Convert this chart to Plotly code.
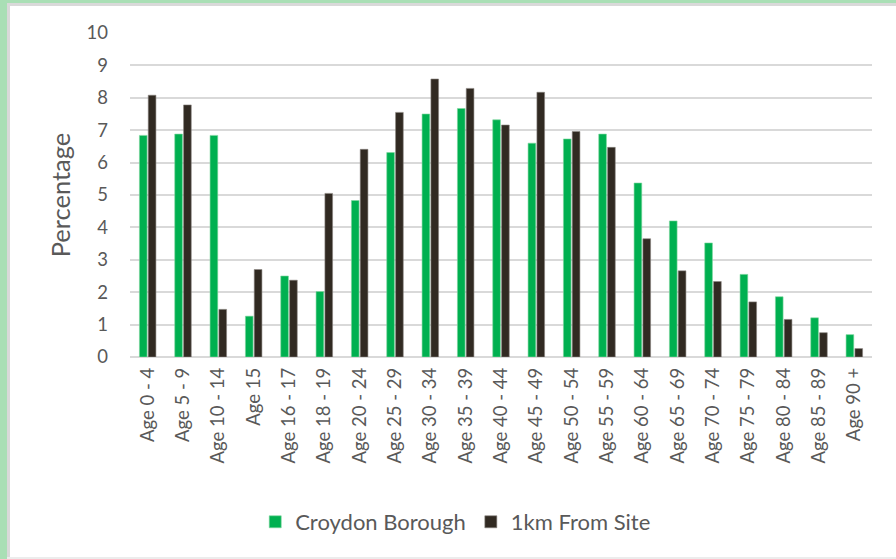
import plotly.graph_objects as go

categories = ["Age 0 - 4", "Age 5 - 9", "Age 10 - 14", "Age 15", "Age 16 - 17", "Age 18 - 19",
              "Age 20 - 24", "Age 25 - 29", "Age 30 - 34", "Age 35 - 39", "Age 40 - 44",
              "Age 45 - 49", "Age 50 - 54", "Age 55 - 59", "Age 60 - 64", "Age 65 - 69",
              "Age 70 - 74", "Age 75 - 79", "Age 80 - 84", "Age 85 - 89", "Age 90 +"]
croydon = [6.84, 6.88, 6.84, 1.26, 2.50, 2.02, 4.83, 6.31, 7.50, 7.67, 7.32, 6.60, 6.73,
           6.88, 5.37, 4.20, 3.52, 2.55, 1.86, 1.21, 0.69]
site_1km = [8.08, 7.78, 1.47, 2.70, 2.37, 5.05, 6.41, 7.55, 8.58, 8.29, 7.16, 8.17, 6.96,
            6.47, 3.65, 2.66, 2.33, 1.70, 1.16, 0.75, 0.26]
series_names = ["Croydon Borough", "1km From Site"]
y_ticks = list(range(0, 11))

FONT = "Lato"
TXT = "#595959"
GREEN = "#00b050"
DARK = "#312a22"

fig = go.Figure()
fig.add_trace(go.Bar(x=categories, y=croydon, name=series_names[0],
                     marker=dict(color=GREEN, line=dict(color="#7fd6a0", width=0.6))))
fig.add_trace(go.Bar(x=categories, y=site_1km, name=series_names[1],
                     marker=dict(color=DARK, line=dict(color="#8a8580", width=0.6))))

L, R, T, B = 130, 24, 33, 202
W, H = 896, 559
pw, ph = W - L - R, H - T - B

def px_x(p):
    return (p - L) / pw

def px_y(p):
    return 1 - (p - T) / ph

shapes = [
    dict(type="rect", xref="paper", yref="paper", x0=px_x(0), x1=px_x(7), y0=px_y(H), y1=px_y(0),
         fillcolor="#a9dfb5", line=dict(width=0), layer="below"),
    dict(type="rect", xref="paper", yref="paper", x0=px_x(0), x1=px_x(W), y0=px_y(3), y1=px_y(0),
         fillcolor="#a9dfb5", line=dict(width=0), layer="below"),
    dict(type="rect", xref="paper", yref="paper", x0=px_x(7), x1=px_x(10), y0=px_y(H), y1=px_y(3),
         fillcolor="#d9d9d9", line=dict(width=0), layer="below"),
    dict(type="rect", xref="paper", yref="paper", x0=px_x(7), x1=px_x(W), y0=px_y(6), y1=px_y(3),
         fillcolor="#d9d9d9", line=dict(width=0), layer="below"),
    dict(type="rect", xref="paper", yref="paper", x0=px_x(7), x1=px_x(W), y0=px_y(H), y1=px_y(H - 2),
         fillcolor="#ececec", line=dict(width=0), layer="below"),
]

fig.update_layout(
    width=W, height=H,
    margin=dict(l=L, r=R, t=T, b=B, autoexpand=False),
    paper_bgcolor="white", plot_bgcolor="white",
    barmode="group", bargap=0.5, bargroupgap=0.13,
    font=dict(family=FONT, color=TXT, size=18),
    shapes=shapes,
    showlegend=True,
    legend=dict(orientation="h", x=0.439, xanchor="center", y=px_y(522), yanchor="middle",
                font=dict(family=FONT, size=22, color=TXT), itemwidth=30,
                traceorder="normal", bgcolor="rgba(0,0,0,0)"),
    xaxis=dict(tickangle=-90, showgrid=False, showline=False, ticks="", automargin=False,
               tickfont=dict(family=FONT, size=18.5, color=TXT), ticklabelstandoff=6),
    yaxis=dict(range=[0, 10], tickvals=y_ticks, showgrid=True, gridcolor="#d9d9d9", gridwidth=1.5,
               zeroline=True, zerolinecolor="#d9d9d9", zerolinewidth=1.5, automargin=False,
               tickfont=dict(family=FONT, size=18.5, color=TXT), ticklabelstandoff=21,
               title=dict(text="Percentage", font=dict(family=FONT, size=25.5, color=TXT), standoff=8)),
)

fig.write_html("out.html", config={"displayModeBar": False},
               post_script="document.body.style.margin='0';document.body.style.overflow='hidden';")
